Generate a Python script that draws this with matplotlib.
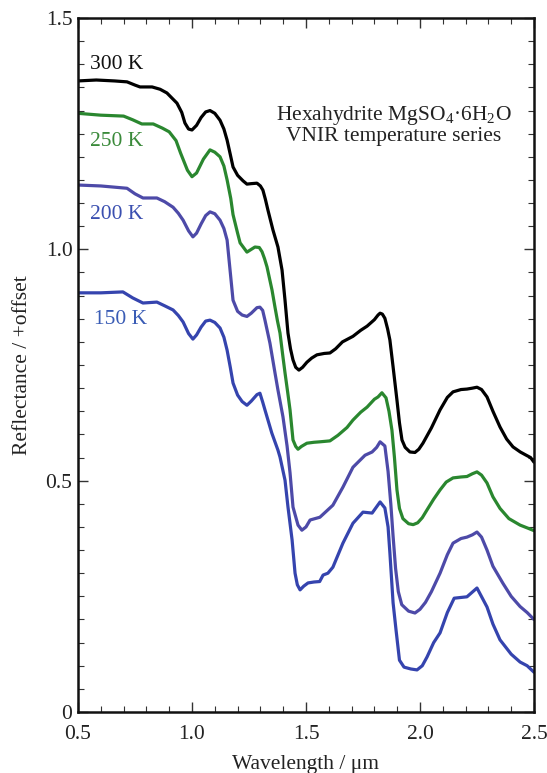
import matplotlib
matplotlib.use("Agg")
import matplotlib.pyplot as plt
from matplotlib.ticker import MultipleLocator

plt.rcParams['font.family'] = ['Liberation Serif', 'DejaVu Serif']
plt.rcParams['mathtext.fontset'] = 'custom'
plt.rcParams['mathtext.rm'] = 'Liberation Serif'

# 300 K
wl_300 = [0.50, 0.58, 0.66, 0.715, 0.75, 0.772, 0.825, 0.86, 0.89, 0.934, 0.955, 0.969, 0.985, 1.0,
          1.02, 1.04, 1.06, 1.079, 1.10, 1.123, 1.14, 1.154, 1.168, 1.18, 1.20, 1.224, 1.241, 1.26,
          1.285, 1.30, 1.311, 1.322, 1.333, 1.355, 1.377, 1.395, 1.408, 1.421, 1.432, 1.443, 1.455,
          1.469, 1.485, 1.504, 1.525, 1.548, 1.58, 1.605, 1.63, 1.66, 1.706, 1.74, 1.768, 1.80,
          1.816, 1.825, 1.835, 1.846, 1.858, 1.868, 1.882, 1.899, 1.91, 1.921, 1.935, 1.956, 1.978,
          1.995, 2.013, 2.05, 2.088, 2.12, 2.145, 2.18, 2.206, 2.23, 2.25, 2.27, 2.294, 2.32, 2.351,
          2.38, 2.408, 2.44, 2.466, 2.485, 2.50]
r_300 = [1.364, 1.366, 1.364, 1.362, 1.355, 1.351, 1.351, 1.346, 1.338, 1.316, 1.296, 1.273, 1.260, 1.258,
         1.268, 1.285, 1.297, 1.300, 1.294, 1.279, 1.260, 1.236, 1.205, 1.178, 1.160, 1.148, 1.141, 1.142,
         1.143, 1.137, 1.128, 1.108, 1.085, 1.042, 1.005, 0.955, 0.890, 0.819, 0.785, 0.761, 0.745,
         0.739, 0.745, 0.756, 0.765, 0.772, 0.775, 0.776, 0.785, 0.800, 0.812, 0.825, 0.834, 0.848,
         0.858, 0.862, 0.860, 0.851, 0.828, 0.804, 0.746, 0.674, 0.625, 0.588, 0.572, 0.562, 0.561,
         0.568, 0.581, 0.614, 0.653, 0.680, 0.692, 0.697, 0.698, 0.700, 0.702, 0.697, 0.681, 0.650, 0.616,
         0.590, 0.573, 0.562, 0.555, 0.550, 0.540]

# 250 K
wl_250 = [0.50, 0.60, 0.70, 0.74, 0.78, 0.83, 0.87, 0.90, 0.93, 0.95, 0.98, 1.0, 1.02, 1.05, 1.079,
          1.10, 1.123, 1.14, 1.154, 1.17, 1.18, 1.20, 1.211, 1.241, 1.26, 1.276, 1.295, 1.307, 1.318,
          1.329, 1.351, 1.364, 1.375, 1.386, 1.397, 1.408, 1.420, 1.430, 1.443, 1.455, 1.465, 1.48,
          1.504, 1.535, 1.561, 1.605, 1.64, 1.68, 1.706, 1.74, 1.768, 1.80, 1.816, 1.833, 1.851, 1.864,
          1.877, 1.888, 1.899, 1.91, 1.925, 1.95, 1.97, 1.99, 2.01, 2.031, 2.06, 2.088, 2.115, 2.145,
          2.18, 2.206, 2.23, 2.25, 2.27, 2.294, 2.32, 2.351, 2.39, 2.439, 2.47, 2.50]
r_250 = [1.294, 1.290, 1.288, 1.280, 1.271, 1.271, 1.262, 1.254, 1.235, 1.208, 1.171, 1.157, 1.165, 1.195, 1.215,
         1.210, 1.200, 1.180, 1.150, 1.110, 1.075, 1.035, 1.014, 0.994, 1.000, 1.005, 1.004, 0.995, 0.980,
         0.962, 0.912, 0.875, 0.845, 0.819, 0.775, 0.733, 0.690, 0.653, 0.588, 0.574, 0.568, 0.574,
         0.581, 0.583, 0.584, 0.586, 0.598, 0.615, 0.631, 0.648, 0.659, 0.676, 0.681, 0.690, 0.679, 0.650,
         0.609, 0.550, 0.480, 0.440, 0.418, 0.407, 0.405, 0.409, 0.420, 0.437, 0.460, 0.480, 0.497, 0.506,
         0.508, 0.509, 0.515, 0.519, 0.512, 0.495, 0.465, 0.440, 0.418, 0.404, 0.398, 0.392]

# 200 K
wl_200 = [0.50, 0.60, 0.715, 0.75, 0.785, 0.846, 0.88, 0.917, 0.94, 0.961, 0.985, 1.004, 1.02, 1.04,
          1.06, 1.079, 1.10, 1.123, 1.14, 1.154, 1.165, 1.18, 1.20, 1.22, 1.241, 1.26, 1.285, 1.298,
          1.31, 1.32, 1.342, 1.364, 1.377, 1.399, 1.417, 1.430, 1.443, 1.465, 1.482, 1.50, 1.518,
          1.561, 1.618, 1.662, 1.706, 1.759, 1.79, 1.81, 1.825, 1.846, 1.86, 1.872, 1.882, 1.893,
          1.905, 1.92, 1.95, 1.978, 2.00, 2.024, 2.05, 2.088, 2.12, 2.145, 2.18, 2.206, 2.23, 2.25,
          2.27, 2.294, 2.32, 2.364, 2.40, 2.439, 2.47, 2.50]
r_200 = [1.139, 1.137, 1.132, 1.120, 1.111, 1.111, 1.103, 1.091, 1.078, 1.063, 1.040, 1.027, 1.035, 1.055,
         1.073, 1.081, 1.077, 1.063, 1.045, 1.020, 0.965, 0.890, 0.866, 0.858, 0.855, 0.862, 0.874, 0.875,
         0.868, 0.847, 0.797, 0.733, 0.696, 0.638, 0.575, 0.517, 0.443, 0.404, 0.393, 0.400, 0.415,
         0.421, 0.447, 0.486, 0.529, 0.555, 0.562, 0.572, 0.584, 0.575, 0.520, 0.450, 0.380, 0.310,
         0.260, 0.232, 0.218, 0.214, 0.222, 0.237, 0.260, 0.300, 0.340, 0.365, 0.375, 0.378, 0.383, 0.389,
         0.378, 0.350, 0.315, 0.278, 0.250, 0.228, 0.215, 0.200]

# 150 K
wl_150 = [0.50, 0.60, 0.697, 0.74, 0.785, 0.846, 0.88, 0.917, 0.94, 0.961, 0.985, 1.004, 1.02, 1.04,
          1.06, 1.079, 1.10, 1.123, 1.14, 1.154, 1.168, 1.18, 1.20, 1.22, 1.241, 1.26, 1.285, 1.298,
          1.31, 1.32, 1.35, 1.377, 1.386, 1.408, 1.421, 1.439, 1.452, 1.462, 1.474, 1.49, 1.509, 1.535,
          1.56, 1.575, 1.596, 1.618, 1.662, 1.706, 1.75, 1.79, 1.825, 1.846, 1.86, 1.868, 1.882, 1.895,
          1.91, 1.93, 1.96, 1.987, 2.01, 2.031, 2.06, 2.088, 2.12, 2.15, 2.206, 2.25, 2.294, 2.32, 2.351,
          2.40, 2.439, 2.47, 2.50]
r_150 = [0.906, 0.906, 0.908, 0.895, 0.884, 0.886, 0.878, 0.869, 0.857, 0.843, 0.818, 0.806, 0.815, 0.832,
         0.845, 0.847, 0.842, 0.830, 0.810, 0.782, 0.745, 0.711, 0.685, 0.671, 0.663, 0.672, 0.686, 0.689,
         0.670, 0.653, 0.603, 0.566, 0.551, 0.501, 0.443, 0.372, 0.300, 0.275, 0.264, 0.272, 0.279, 0.281,
         0.282, 0.296, 0.300, 0.313, 0.365, 0.408, 0.432, 0.430, 0.454, 0.441, 0.400, 0.344, 0.236, 0.177,
         0.112, 0.097, 0.093, 0.091, 0.100, 0.119, 0.150, 0.171, 0.215, 0.246, 0.249, 0.268, 0.227, 0.190, 0.156,
         0.125, 0.108, 0.100, 0.086]

series = [
    (wl_300, r_300, "300 K", "#000000", "#111111", 0.553, 1.400),
    (wl_250, r_250, "250 K", "#2a872f", "#3a8a3a", 0.553, 1.234),
    (wl_200, r_200, "200 K", "#4d4aa8", "#3a4fb0", 0.553, 1.076),
    (wl_150, r_150, "150 K", "#3544ae", "#3a5cb5", 0.570, 0.849),
]

fig = plt.figure(figsize=(5.47, 7.73), dpi=100)
ax = fig.add_axes([0.1426, 0.0789, 0.8336, 0.8978])

for wl, r, lab, lc, tc, tx, ty in series:
    ax.plot(wl, r, color=lc, lw=2.3, solid_joinstyle='round', solid_capstyle='round')
    ax.text(tx, ty, lab, color=tc, fontsize=15.5, va='center', ha='left')

ax.text(0.693, 0.846, "Hexahydrite MgSO$_4$·6H$_2$O\nVNIR temperature series",
        transform=ax.transAxes, ha='center', va='center', fontsize=15.5,
        color='#222222', linespacing=1.05)

ax.set_xlim(0.5, 2.5)
ax.set_ylim(0, 1.5)
ax.xaxis.set_major_locator(MultipleLocator(0.5))
ax.xaxis.set_minor_locator(MultipleLocator(0.1))
ax.yaxis.set_major_locator(MultipleLocator(0.5))
ax.yaxis.set_minor_locator(MultipleLocator(0.05))
ax.xaxis.set_major_formatter(plt.FuncFormatter(lambda v, p: "%.1f" % v))
ax.yaxis.set_major_formatter(plt.FuncFormatter(lambda v, p: "0" if v == 0 else "%.1f" % v))

ax.tick_params(which='both', direction='in', top=True, right=True, colors='#333333',
               labelcolor='#222222', labelsize=15.5)
ax.tick_params(which='major', length=7, width=1)
ax.tick_params(which='minor', length=4, width=0.8)
ax.tick_params(axis='x', pad=9)
ax.tick_params(axis='y', pad=4)
for s in ax.spines.values():
    s.set_linewidth(1.8)
    s.set_color('#111111')

ax.set_xlabel("Wavelength / μm", fontsize=15.5, color='#222222', labelpad=8)
ax.set_ylabel("Reflectance / +offset", fontsize=15.5, color='#222222', labelpad=10)

fig.savefig("out.png", dpi=100)
